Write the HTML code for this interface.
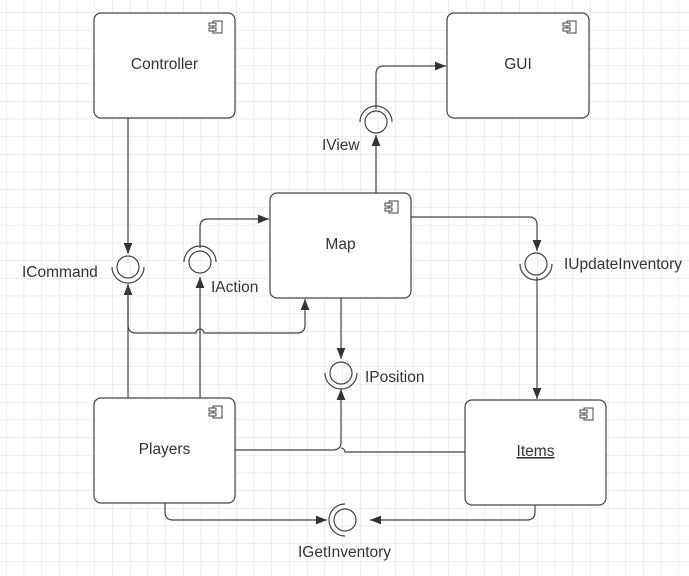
<!DOCTYPE html>
<html><head><style>
body{margin:0;background:#fff}
svg{display:block}
text{font-family:"Liberation Sans",sans-serif;font-size:15.5px;fill:#333}
</style></head><body>
<svg width="689" height="576" viewBox="0 0 689 576" xmlns="http://www.w3.org/2000/svg">
<defs>
<pattern id="g" x="6" y="12.5" width="17.7" height="17.7" patternUnits="userSpaceOnUse">
<path d="M0 0H17.7M0 0V17.7" stroke="#dcdcdc" stroke-width="1" fill="none"/>
</pattern>
<marker id="a" viewBox="0 0 10 10" refX="10" refY="5" markerWidth="11" markerHeight="11" markerUnits="userSpaceOnUse" orient="auto">
<path d="M0 1L10 5L0 9z" fill="#333"/>
</marker>
<g id="ic"><rect x="4" y="0" width="9" height="12" fill="#fff" stroke="#444" stroke-width="1"/><rect x="0" y="2" width="7" height="3" fill="#fff" stroke="#444"/><rect x="0" y="7" width="7" height="3" fill="#fff" stroke="#444"/></g>
</defs>
<rect width="689" height="576" fill="url(#g)"/>
<g fill="#fff" stroke="#444" stroke-width="1.2">
<rect x="94" y="13" width="141" height="105" rx="7"/>
<rect x="447" y="13" width="142" height="105" rx="7"/>
<rect x="270" y="193" width="141" height="105" rx="7"/>
<rect x="94" y="398" width="141" height="105" rx="7"/>
<rect x="465" y="400" width="141" height="105" rx="7"/>
</g>
<use href="#ic" x="209" y="21"/>
<use href="#ic" x="563" y="21"/>
<use href="#ic" x="385" y="201"/>
<use href="#ic" x="209" y="406"/>
<use href="#ic" x="580" y="408"/>
<text x="164.5" y="69" text-anchor="middle">Controller</text>
<text x="518" y="69" text-anchor="middle">GUI</text>
<text x="340.5" y="249" text-anchor="middle">Map</text>
<text x="164.5" y="454" text-anchor="middle">Players</text>
<text x="535.5" y="456" text-anchor="middle" text-decoration="underline">Items</text>
<g fill="none" stroke="#444" stroke-width="1.2">
<path d="M128 118V254" marker-end="url(#a)"/>
<path d="M128 398V284" marker-end="url(#a)"/>
<path d="M200 398V277" marker-end="url(#a)"/>
<path d="M200 248V227Q200 219 208 219H269" marker-end="url(#a)"/>
<path d="M128 284V325Q128 333 136 333H196A4 4 0 0 1 204 333H297Q305 333 305 325V299" marker-end="url(#a)"/>
<path d="M341 298V359" marker-end="url(#a)"/>
<path d="M376 193V135" marker-end="url(#a)"/>
<path d="M376 109V74Q376 66 384 66H446" marker-end="url(#a)"/>
<path d="M411 217H529Q537 217 537 225V251" marker-end="url(#a)"/>
<path d="M537 277V399" marker-end="url(#a)"/>
<path d="M235 450H333Q341 450 341 442V389" marker-end="url(#a)"/>
<path d="M465 452H345A4 4 0 0 0 341 448"/>
<path d="M165 503V512Q165 520 173 520H327" marker-end="url(#a)"/>
<path d="M535 505V512Q535 520 527 520H370" marker-end="url(#a)"/>
<circle cx="128" cy="267" r="11"/><path d="M112 267A16 16 0 0 0 144 267"/>
<circle cx="200" cy="262" r="11"/><path d="M184 262A16 16 0 0 1 216 262"/>
<circle cx="376" cy="122" r="11"/><path d="M360 122A16 16 0 0 1 392 122"/>
<circle cx="536" cy="264" r="11"/><path d="M520 264A16 16 0 0 0 552 264"/>
<circle cx="341" cy="373" r="11"/><path d="M325 373A16 16 0 0 0 357 373"/>
<circle cx="345" cy="520" r="11"/><path d="M345 504A16 16 0 0 0 345 536"/>
</g>
<text x="22" y="277">ICommand</text>
<text x="211" y="292">IAction</text>
<text x="322" y="150">IView</text>
<text x="564" y="269">IUpdateInventory</text>
<text x="365" y="382">IPosition</text>
<text x="298" y="557">IGetInventory</text>
</svg>
</body></html>
